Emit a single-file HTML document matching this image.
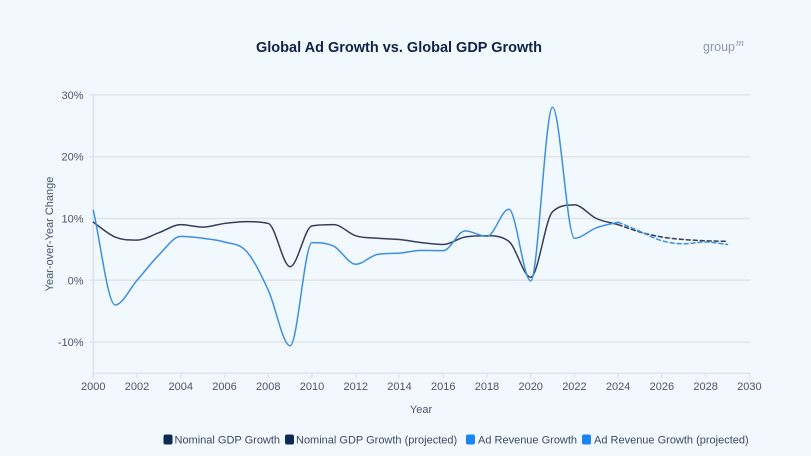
<!DOCTYPE html>
<html>
<head>
<meta charset="utf-8">
<style>
  html,body{margin:0;padding:0;background:#f1f8fe;}
  body{width:811px;height:456px;overflow:hidden;font-family:"Liberation Sans",sans-serif;}
  svg{display:block;}
  .tick{font-size:11px;fill:#4a5568;}
</style>
</head>
<body>
<svg id="c" width="811" height="456" viewBox="0 0 811 456" xmlns="http://www.w3.org/2000/svg">
  <rect x="0" y="0" width="811" height="456" fill="#f1f8fe"/>
  <text x="399" y="52" text-anchor="middle" font-size="14.5" font-weight="bold" fill="#0f2348" font-family="Liberation Sans, sans-serif">Global Ad Growth vs. Global GDP Growth</text>
  <text x="703" y="51" font-size="12.5" fill="#8d99ab" font-family="Liberation Sans, sans-serif">group</text>
  <text x="736" y="46" font-size="11" font-style="italic" fill="#8d99ab" font-family="Liberation Serif, serif">m</text>

  <g id="grid" stroke="#e0e4e9" stroke-width="1.5"></g>
  <line x1="93.3" y1="95" x2="93.3" y2="378" stroke="#dde1e6" stroke-width="1.5"/>
  <g id="labels"></g>

  <text x="421" y="413" text-anchor="middle" class="tick" fill="#3d4a5c">Year</text>
  <text transform="translate(53,234) rotate(-90)" text-anchor="middle" class="tick" fill="#3d4a5c">Year-over-Year Change</text>

  <g id="series" fill="none" stroke-width="1.5" stroke-linejoin="round" stroke-linecap="round"></g>

  <!-- legend -->
  <g font-size="11" fill="#3d4a5c">
    <rect x="163.5" y="434.5" width="9" height="10" rx="2" fill="#0d2a55"/>
    <text x="174.5" y="443.5">Nominal GDP Growth</text>
    <rect x="285" y="434.5" width="9" height="10" rx="2" fill="#0d2a55"/>
    <text x="296" y="443.5">Nominal GDP Growth (projected)</text>
    <rect x="466" y="434.5" width="9" height="10" rx="2" fill="#1a85f0"/>
    <text x="478" y="443.5">Ad Revenue Growth</text>
    <rect x="582" y="434.5" width="9" height="10" rx="2" fill="#1a85f0"/>
    <text x="594" y="443.5">Ad Revenue Growth (projected)</text>
  </g>
</svg>
<script>
(function(){
  var NS="http://www.w3.org/2000/svg";
  function X(y){return 93.3+(y-2000)*21.87;}
  function Y(v){return 280.3-v*6.18;}
  var grid=document.getElementById('grid');
  var labels=document.getElementById('labels');
  function el(tag,attrs,parent,txt){var e=document.createElementNS(NS,tag);for(var k in attrs)e.setAttribute(k,attrs[k]);if(txt!==undefined)e.textContent=txt;parent.appendChild(e);return e;}
  [30,20,10,0,-10].forEach(function(v){
    var y=Y(v);
    el('line',{x1:89.3,y1:y,x2:750,y2:y},grid);
    el('text',{x:83.5,y:y+4,'text-anchor':'end','class':'tick'},labels,(v)+'%');
  });
  el('line',{x1:93.3,y1:373.3,x2:750,y2:373.3},grid);
  for(var yr=2000;yr<=2030;yr+=2){
    var x=X(yr);
    el('line',{x1:x,y1:373.3,x2:x,y2:378},grid);
    el('text',{x:x,y:390,'text-anchor':'middle','class':'tick'},labels,String(yr));
  }
  // monotone cubic (Chart.js style)
  function path(vals,start){
    var p=vals.map(function(v,i){return [X(start+i),Y(v)];});
    var n=p.length,dk=[],mk=[];
    for(var i=0;i<n-1;i++){dk.push((p[i+1][1]-p[i][1])/(p[i+1][0]-p[i][0]));}
    for(i=0;i<n;i++){
      if(i===0)mk.push(dk[0]);
      else if(i===n-1)mk.push(dk[n-2]);
      else if((dk[i-1]>0)!==(dk[i]>0)||dk[i-1]===0||dk[i]===0)mk.push(0);
      else mk.push((dk[i-1]+dk[i])/2);
    }
    for(i=0;i<n-1;i++){
      if(Math.abs(dk[i])<1e-9){mk[i]=mk[i+1]=0;continue;}
      var a=mk[i]/dk[i],b=mk[i+1]/dk[i],sq=a*a+b*b;
      if(sq>9){var tau=3/Math.sqrt(sq);mk[i]=a*tau*dk[i];mk[i+1]=b*tau*dk[i];}
    }
    var d='M'+p[0][0].toFixed(2)+','+p[0][1].toFixed(2);
    for(i=0;i<n-1;i++){
      var dx=(p[i+1][0]-p[i][0])/3;
      d+=' C'+(p[i][0]+dx).toFixed(2)+','+(p[i][1]+mk[i]*dx).toFixed(2)+' '+(p[i+1][0]-dx).toFixed(2)+','+(p[i+1][1]-mk[i+1]*dx).toFixed(2)+' '+p[i+1][0].toFixed(2)+','+p[i+1][1].toFixed(2);
    }
    return d;
  }
  var gdp=[9.4,7.0,6.5,7.7,9.0,8.6,9.2,9.5,9.2,2.2,8.8,9.0,7.2,6.8,6.6,6.1,5.8,7.0,7.2,6.3,0.5,11.1,12.2,10.0,9.0];
  var gdpP=[9.0,7.8,7.0,6.6,6.4,6.3];
  var ad=[11.3,-4.0,0.0,4.1,7.1,6.8,6.2,4.7,-1.6,-10.6,6.1,5.5,2.6,4.2,4.4,4.85,4.8,8.0,7.1,11.5,-0.1,28.0,6.8,8.5,9.4];
  var adP=[9.4,7.9,6.4,5.9,6.2,5.8];
  var s=document.getElementById('series');
  el('path',{d:path(gdp,2000),stroke:'#343f55'},s);
  el('path',{d:path(ad,2000),stroke:'#3d8fdf'},s);
  el('path',{d:path(gdpP,2024),stroke:'#343f55','stroke-dasharray':'4 3'},s);
  el('path',{d:path(adP,2024),stroke:'#3d8fdf','stroke-dasharray':'4 3'},s);
})();
</script>
</body>
</html>
